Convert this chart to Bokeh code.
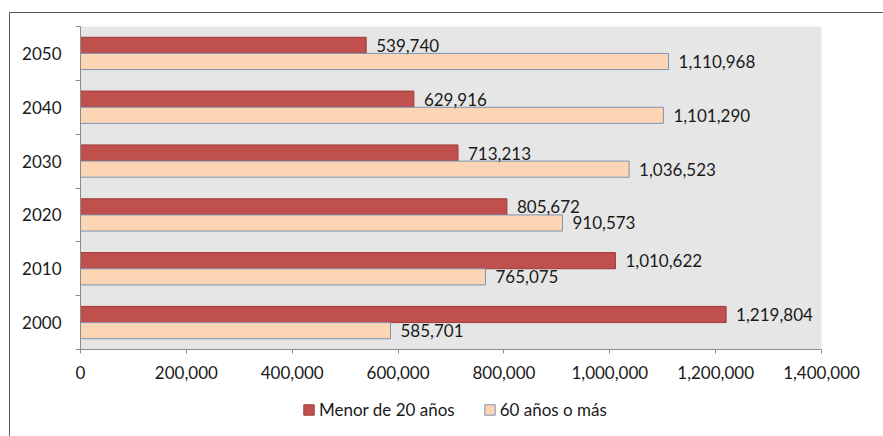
from bokeh.plotting import figure
from bokeh.layouts import column
from bokeh.models import (ColumnDataSource, FixedTicker, NumeralTickFormatter, Legend,
                          LegendItem, LabelSet, Range1d)
from bokeh.core.properties import value
from bokeh.embed import file_html
from bokeh.resources import INLINE

years = ["2000", "2010", "2020", "2030", "2040", "2050"]
menor_20 = [1219804, 1010622, 805672, 713213, 629916, 539740]
mayor_60 = [585701, 765075, 910573, 1036523, 1101290, 1110968]
series_names = ["Menor de 20 años", "60 años o más"]
x_ticks = [0, 200000, 400000, 600000, 800000, 1000000, 1200000, 1400000]

FONT = "Lato"
FS = "17px"
RED = "#C0504D"
RED_LINE = "#9E3B38"
PEACH = "#FCD5B5"
PEACH_LINE = "#7F93B0"
FRAME = "1.5px solid #5a5a5a"

centers = [i + 0.5 for i in range(len(years))]
off = 0.15
bar_h = 0.3

src_r = ColumnDataSource(dict(y=[c + off for c in centers], v=menor_20,
                              lab=[f"{v:,}" for v in menor_20]))
src_p = ColumnDataSource(dict(y=[c - off for c in centers], v=mayor_60,
                              lab=[f"{v:,}" for v in mayor_60]))

p = figure(width=874, height=378, output_backend="svg", toolbar_location=None,
           x_range=Range1d(0, 1400000), y_range=Range1d(0, len(years)),
           min_border_left=70, min_border_right=63, min_border_top=13, min_border_bottom=42)
p.margin = (12, 0, 0, 9)
p.styles = {"border-left": FRAME, "border-top": FRAME}
p.background_fill_color = "#E6E6E6"
p.border_fill_color = "white"
p.outline_line_color = None
p.xgrid.visible = False
p.ygrid.visible = False

p.hbar(y="y", left=0, right="v", height=bar_h, source=src_r,
       fill_color=RED, line_color=RED_LINE, line_width=1)
p.hbar(y="y", left=0, right="v", height=bar_h, source=src_p,
       fill_color=PEACH, line_color=PEACH_LINE, line_width=1)

for src in (src_r, src_p):
    p.add_layout(LabelSet(x="v", y="y", text="lab", source=src, x_offset=10,
                          text_baseline="middle", text_font=value(FONT),
                          text_font_size=value(FS), text_color="#1a1a1a"))

xa = p.xaxis[0]
xa.ticker = FixedTicker(ticks=x_ticks)
xa.formatter = NumeralTickFormatter(format="0,0")
xa.major_label_text_font = FONT
xa.major_label_text_font_size = FS
xa.major_label_text_color = "#1a1a1a"
xa.major_tick_in = 0
xa.major_tick_out = 4
xa.major_label_standoff = 12
xa.minor_tick_line_color = None
xa.axis_line_color = "#8C8C8C"
xa.major_tick_line_color = "#8C8C8C"

ya = p.yaxis[0]
ya.ticker = FixedTicker(ticks=centers, minor_ticks=list(range(len(years) + 1)))
ya.major_label_overrides = {c: y for c, y in zip(centers, years)}
ya.major_label_text_font = FONT
ya.major_label_text_font_size = FS
ya.major_label_text_color = "#1a1a1a"
ya.major_tick_line_color = None
ya.major_tick_in = 0
ya.major_tick_out = 0
ya.major_label_standoff = 14
ya.minor_tick_in = 0
ya.minor_tick_out = 5
ya.minor_tick_line_color = "#8C8C8C"
ya.axis_line_color = "#8C8C8C"

# legend strip below the chart (its renderers are hidden; only legend swatches show)
lg = figure(width=874, height=46, output_backend="svg", toolbar_location=None,
            x_range=Range1d(0, 1400000), y_range=Range1d(-2, -1),
            x_axis_location=None, y_axis_location=None,
            min_border_left=0, min_border_right=0, min_border_top=0, min_border_bottom=0)
lg.margin = (0, 0, 0, 9)
lg.styles = {"border-left": FRAME}
lg.outline_line_color = None
lg.background_fill_color = "white"
lg.border_fill_color = "white"
lg.xgrid.visible = False
lg.ygrid.visible = False
lr1 = lg.hbar(y="y", left=0, right="v", height=bar_h, source=src_r,
              fill_color=RED, line_color=RED_LINE)
lr2 = lg.hbar(y="y", left=0, right="v", height=bar_h, source=src_p,
              fill_color=PEACH, line_color=PEACH_LINE)
lr1.visible = False
lr2.visible = False
legend = Legend(items=[LegendItem(label=series_names[0], renderers=[lr1], index=0),
                       LegendItem(label=series_names[1], renderers=[lr2], index=0)],
                location=(222, 16), orientation="horizontal", click_policy="none",
                label_text_font=FONT, label_text_font_size=FS, label_text_color="#1a1a1a",
                glyph_width=13, glyph_height=13, label_standoff=4, spacing=28,
                padding=0, margin=0, border_line_color=None, background_fill_alpha=0)
lg.add_layout(legend)

layout = column(p, lg, spacing=0)
open("out.html", "w").write(file_html(layout, INLINE))
